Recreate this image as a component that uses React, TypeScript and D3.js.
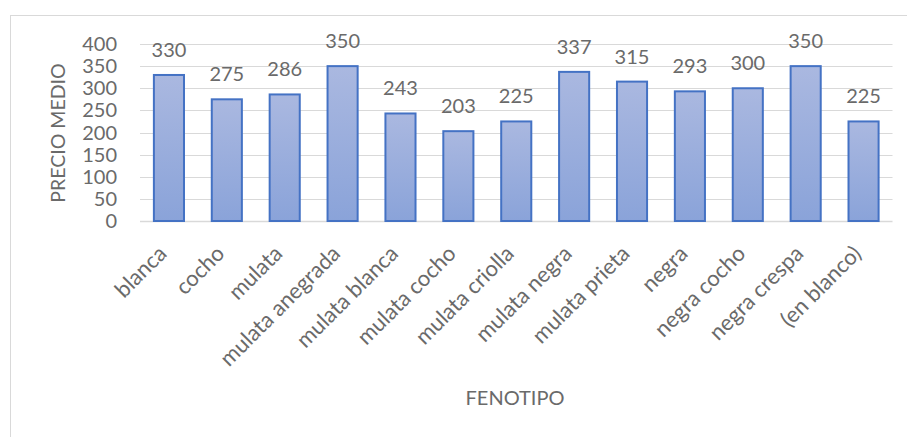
import React from "react";
import * as d3 from "d3";

const categories = ["blanca", "cocho", "mulata", "mulata anegrada", "mulata blanca", "mulata cocho", "mulata criolla", "mulata negra", "mulata prieta", "negra", "negra cocho", "negra crespa", "(en blanco)"];
const values = [330, 275, 286, 350, 243, 203, 225, 337, 315, 293, 300, 350, 225];
const yTicks = [0, 50, 100, 150, 200, 250, 300, 350, 400];
const yTitle = "PRECIO MEDIO";
const xTitle = "FENOTIPO";

const W = 907, H = 437;
const left = 140, right = 892.5, top = 44, bottom = 221;
const font = "Lato, 'Open Sans', sans-serif";
const grey = "#6a6a6a";

export default function App() {
  const x = d3.scaleBand<string>().domain(categories).range([left, right]).paddingInner(0.48).paddingOuter(0.24);
  const y = d3.scaleLinear().domain([0, 400]).range([bottom, top]);
  return (
    <svg width={W} height={H} style={{ position: "absolute", left: 0, top: 0, background: "#fff" }}>
      <defs>
        <linearGradient id="barg" x1="0" y1="0" x2="0" y2="1">
          <stop offset="0" stopColor="#aab8e0" />
          <stop offset="1" stopColor="#8aa3d9" />
        </linearGradient>
      </defs>
      <rect x={10.5} y={15.5} width={W} height={H} fill="none" stroke="#d9d9d9" strokeWidth={1} />
      {yTicks.map((t) => (
        <g key={t}>
          <line x1={left} x2={right} y1={Math.round(y(t)) + 0.5} y2={Math.round(y(t)) + 0.5} stroke="#d9d9d9" strokeWidth={t === 0 ? 1.5 : 1.2} />
          <text x={117} y={y(t) + 7} textAnchor="end" fontFamily={font} fontSize={20} fill={grey}>{t}</text>
        </g>
      ))}
      {categories.map((c, i) => {
        const bx = x(c)!;
        const bw = x.bandwidth();
        const cx = bx + bw / 2;
        return (
          <g key={c}>
            <rect x={bx} y={y(values[i])} width={bw} height={y(0) - y(values[i])} fill="url(#barg)" stroke="#4472c4" strokeWidth={2} />
            <text x={cx} y={y(values[i]) - 18} textAnchor="middle" fontFamily={font} fontSize={20} fill={grey}>{values[i]}</text>
            <text transform={`translate(${cx - 1},${bottom + 34}) rotate(-45)`} textAnchor="end" fontFamily={font} fontSize={22} fill={grey}>{c}</text>
          </g>
        );
      })}
      <text transform={`translate(65,133) rotate(-90)`} textAnchor="middle" fontFamily={font} fontSize={19.5} fill={grey}>{yTitle}</text>
      <text x={515} y={405} textAnchor="middle" fontFamily={font} fontSize={20} fill={grey}>{xTitle}</text>
    </svg>
  );
}
